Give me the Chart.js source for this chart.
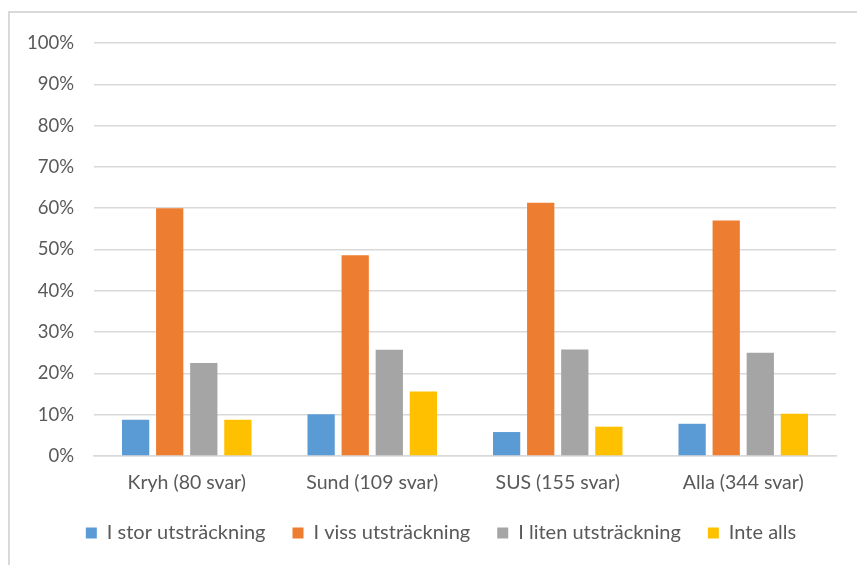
<!DOCTYPE html>
<html>
<head>
<meta charset="utf-8">
<script src="https://cdn.jsdelivr.net/npm/chart.js@4"></script>
<style>
  html, body { margin: 0; padding: 0; background: #fff; overflow: hidden; }
  #ram { position: absolute; left: 8px; top: 11px; width: 1000px; height: 1000px; border: 2px solid #d9d9d9; }
  #wrap { position: absolute; left: 0; top: 0; width: 857px; height: 565px; }
</style>
</head>
<body>
<div id="ram"></div>
<div id="wrap"><canvas id="diagram"></canvas></div>
<script>
document.addEventListener("DOMContentLoaded", function () {

  const grupper = ["Kryh (80 svar)", "Sund (109 svar)", "SUS (155 svar)", "Alla (344 svar)"];
  const storUtstrackning = [8.75, 10.1, 5.8, 7.8];
  const vissUtstrackning = [60.0, 48.6, 61.3, 57.0];
  const litenUtstrackning = [22.5, 25.7, 25.8, 25.0];
  const inteAlls = [8.75, 15.6, 7.1, 10.2];
  const yTicks = [0, 10, 20, 30, 40, 50, 60, 70, 80, 90, 100];

  const familj = "Lato, 'Liberation Sans', sans-serif";
  const textfarg = "#595959";

  // flytta förklaringen lite åt höger, som i originalet
  const flyttaLegend = {
    id: "flyttaLegend",
    afterLayout: function (chart) {
      chart.legend.left += 23;
      chart.legend.right += 23;
    }
  };

  const ctx = document.getElementById("diagram").getContext("2d");
  new Chart(ctx, {
    type: "bar",
    data: {
      labels: grupper,
      datasets: [
        { label: "I stor utsträckning", data: storUtstrackning, backgroundColor: "#5B9BD5" },
        { label: "I viss utsträckning", data: vissUtstrackning, backgroundColor: "#ED7D31" },
        { label: "I liten utsträckning", data: litenUtstrackning, backgroundColor: "#A5A5A5" },
        { label: "Inte alls", data: inteAlls, backgroundColor: "#FFC000" }
      ]
    },
    plugins: [flyttaLegend],
    options: {
      responsive: true,
      maintainAspectRatio: false,
      animation: false,
      categoryPercentage: 0.735,
      barPercentage: 0.8,
      layout: { padding: { left: 0, right: 21, top: 43, bottom: 12 } },
      plugins: {
        tooltip: { enabled: false },
        legend: {
          position: "bottom",
          labels: {
            boxWidth: 11,
            boxHeight: 11,
            padding: 27,
            color: textfarg,
            font: { family: familj, size: 20 }
          }
        }
      },
      scales: {
        y: {
          min: 0,
          max: 100,
          afterFit: function (scale) { scale.width = 94; },
          afterBuildTicks: function (scale) {
            scale.ticks = yTicks.map(v => ({ value: v }));
          },
          ticks: {
            color: textfarg,
            font: { family: familj, size: 18.5 },
            padding: 20,
            callback: function (v) { return v + "%"; }
          },
          grid: { color: "#d9d9d9", lineWidth: 1.5, drawTicks: false },
          border: { display: false }
        },
        x: {
          afterFit: function (scale) { scale.height = 40; },
          ticks: { color: textfarg, font: { family: familj, size: 19.5 }, padding: 15 },
          grid: { display: false, drawTicks: false },
          border: { color: "#d9d9d9", width: 1.5 }
        }
      }
    }
  });
});
</script>
</body>
</html>
